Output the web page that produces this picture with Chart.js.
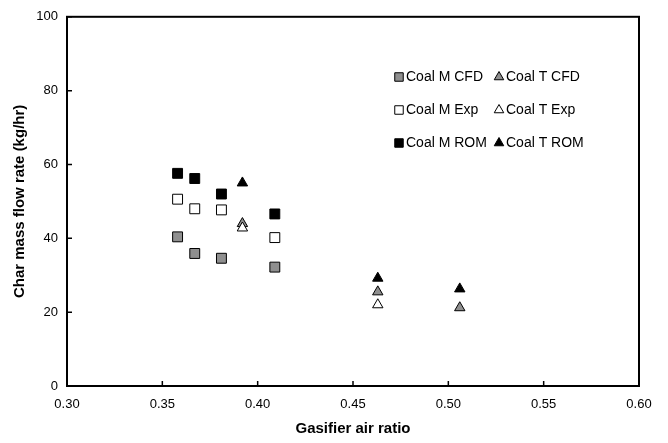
<!DOCTYPE html>
<html>
<head>
<meta charset="utf-8">
<script src="https://cdn.jsdelivr.net/npm/chart.js@4.4.1/dist/chart.umd.min.js"></script>
<style>
html,body{margin:0;padding:0;background:#fff}
#wrap{width:668px;height:443px}
</style>
</head>
<body>
<div id="wrap"><canvas id="c"></canvas></div>
<script>
// データ
const mAirRatio = [0.358, 0.367, 0.381, 0.409]
const tAirRatio = [0.392, 0.463, 0.506]
const coalMCfd = [40.4, 35.9, 34.6, 32.2]
const coalMExp = [50.6, 48.0, 47.7, 40.2]
const coalMRom = [57.6, 56.2, 52.0, 46.6]
const coalTCfd = [44.0, 25.5, 21.2]
const coalTExp = [42.8, 22.0]
const coalTRom = [55.0, 29.2, 26.3]
const xTicks = [0.30, 0.35, 0.40, 0.45, 0.50, 0.55, 0.60]
const yTicks = [0, 20, 40, 60, 80, 100]

const GREY = '#8f8f8f'

function pts(xs, ys){
    return ys.map((y, i) => ({x: xs[i], y: y}))
}

function ds(label, xs, ys, style, fill, order){
    return {
        label: label,
        data: pts(xs, ys),
        pointStyle: style,
        pointRadius: style == 'rect' ? 7 : 6,
        pointHoverRadius: style == 'rect' ? 7 : 6,
        backgroundColor: fill,
        borderColor: '#000',
        borderWidth: 1,
        order: order || 0
    }
}

// 凡例 (2列x3行)
const legendPlugin = {
    id: 'gridLegend',
    afterDraw(chart){
        const ctx = chart.ctx
        ctx.save()
        ctx.font = '14px "Liberation Sans", Arial, sans-serif'
        ctx.textBaseline = 'middle'
        chart.data.datasets.forEach((d, i) => {
            let col = i % 2
            let row = Math.floor(i / 2)
            let x = 394 + col * 100
            let y = 77 + row * 33
            ctx.fillStyle = d.backgroundColor
            ctx.strokeStyle = '#000'
            ctx.lineWidth = 1
            Chart.helpers.drawPoint(ctx, {
                pointStyle: d.pointStyle,
                radius: d.pointStyle == 'rect' ? 6 : 5.5,
                rotation: 0,
                borderWidth: 1
            }, x + 5, y)
            ctx.fillStyle = '#000'
            ctx.fillText(d.label, x + 12, y)
        })
        ctx.restore()
    }
}

// 枠と内向きの目盛り
const framePlugin = {
    id: 'frame',
    beforeDatasetsDraw(chart){
        const ctx = chart.ctx
        const a = chart.chartArea
        const sx = chart.scales.x
        const sy = chart.scales.y
        ctx.save()
        ctx.strokeStyle = '#000'
        ctx.lineWidth = 1.5
        ctx.beginPath()
        sx.ticks.forEach(t => {
            let px = sx.getPixelForValue(t.value)
            ctx.moveTo(px, a.bottom)
            ctx.lineTo(px, a.bottom - 5)
        })
        sy.ticks.forEach(t => {
            let py = sy.getPixelForValue(t.value)
            ctx.moveTo(a.left, py)
            ctx.lineTo(a.left + 5, py)
        })
        ctx.stroke()
        ctx.lineWidth = 2
        ctx.strokeRect(a.left, a.top, a.right - a.left, a.bottom - a.top)
        ctx.restore()
    }
}

Chart.defaults.font.family = '"Liberation Sans", Arial, sans-serif'
Chart.defaults.color = '#000'

new Chart(document.getElementById('c'), {
    type: 'scatter',
    data: {
        datasets: [
            ds('Coal M CFD', mAirRatio, coalMCfd, 'rect', GREY),
            ds('Coal T CFD', tAirRatio, coalTCfd, 'triangle', GREY),
            ds('Coal M Exp', mAirRatio, coalMExp, 'rect', '#fff'),
            ds('Coal T Exp', tAirRatio, coalTExp, 'triangle', '#fff', -1),
            ds('Coal M ROM', mAirRatio, coalMRom, 'rect', '#000'),
            ds('Coal T ROM', tAirRatio, coalTRom, 'triangle', '#000')
        ]
    },
    options: {
        responsive: true,
        maintainAspectRatio: false,
        animation: false,
        layout: {
            autoPadding: false,
            padding: {left: 0, top: 13, right: 29, bottom: 0}
        },
        plugins: {
            legend: {display: false},
            tooltip: {enabled: false}
        },
        scales: {
            x: {
                type: 'linear',
                min: 0.30,
                max: 0.60,
                afterBuildTicks: s => { s.ticks = xTicks.map(v => ({value: v})) },
                afterFit: s => { s.height = 57 },
                grid: {display: false, drawTicks: false, tickLength: 0},
                border: {display: false},
                ticks: {
                    padding: 11,
                    font: {size: 13},
                    maxRotation: 0,
                    callback: v => Number(v).toFixed(2)
                },
                title: {
                    display: true,
                    text: 'Gasifier air ratio',
                    font: {size: 15, weight: 'bold'},
                    padding: {top: 0, bottom: 5}
                }
            },
            y: {
                type: 'linear',
                min: 0,
                max: 100,
                afterBuildTicks: s => { s.ticks = yTicks.map(v => ({value: v})) },
                afterFit: s => { s.width = 67 },
                grid: {display: false, drawTicks: false, tickLength: 0},
                border: {display: false},
                ticks: {
                    padding: 9,
                    font: {size: 13}
                },
                title: {
                    display: true,
                    text: 'Char mass flow rate (kg/hr)',
                    font: {size: 15, weight: 'bold'},
                    padding: {top: 11, bottom: 0}
                }
            }
        }
    },
    plugins: [framePlugin, legendPlugin]
})
</script>
</body>
</html>
